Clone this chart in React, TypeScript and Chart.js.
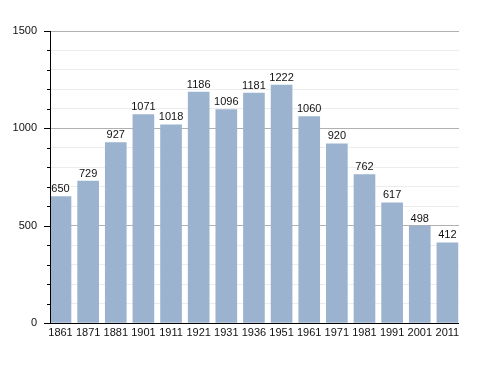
import React, { useEffect, useRef } from "react";
import { Chart, registerables } from "chart.js";

Chart.register(...registerables);

const categories = ["1861", "1871", "1881", "1901", "1911", "1921", "1931", "1936", "1951", "1961", "1971", "1981", "1991", "2001", "2011"];
const population = [650, 729, 927, 1071, 1018, 1186, 1096, 1181, 1222, 1060, 920, 762, 617, 498, 412];
const yTicks = [0, 500, 1000, 1500];

const FONT = "Liberation Sans, Arial, sans-serif";

const valueLabels = {
  id: "valueLabels",
  afterDatasetsDraw(chart: any) {
    const ctx = chart.ctx;
    const meta = chart.getDatasetMeta(0);
    ctx.save();
    ctx.font = `11px ${FONT}`;
    ctx.fillStyle = "#111";
    ctx.textAlign = "center";
    ctx.textBaseline = "bottom";
    meta.data.forEach((el: any, i: number) => {
      ctx.fillText(String(population[i]), el.x, el.y - 2);
    });
    ctx.restore();
  },
};

const axisTicks = {
  id: "axisTicks",
  afterDraw(chart: any) {
    const ctx = chart.ctx;
    const y = chart.scales.y;
    const area = chart.chartArea;
    ctx.save();
    ctx.strokeStyle = "#000";
    ctx.lineWidth = 1;
    for (let v = 0; v <= 1500; v += 100) {
      const py = Math.round(y.getPixelForValue(v)) + 0.5;
      const len = v % 500 === 0 ? 6 : 3;
      ctx.beginPath();
      ctx.moveTo(area.left - len, py);
      ctx.lineTo(area.left, py);
      ctx.stroke();
    }
    ctx.beginPath();
    ctx.moveTo(area.left + 0.5, area.top);
    ctx.lineTo(area.left + 0.5, area.bottom);
    ctx.moveTo(area.left, area.bottom + 0.5);
    ctx.lineTo(area.right, area.bottom + 0.5);
    ctx.stroke();
    ctx.restore();
  },
};

export default function App() {
  const ref = useRef<HTMLCanvasElement>(null);
  useEffect(() => {
    const chart = new Chart(ref.current!, {
      type: "bar",
      data: {
        datasets: [
          {
            data: population.map((v, i) => ({ x: i, y: v })),
            backgroundColor: "#9bb3cf",
            borderWidth: 0,
            barThickness: 21,
          },
        ],
      },
      options: {
        animation: false,
        responsive: false,
        layout: { padding: { left: 0, right: 29, top: 31, bottom: 0 } },
        plugins: { legend: { display: false }, tooltip: { enabled: false } },
        scales: {
          x: {
            type: "linear",
            offset: false,
            min: -0.38,
            max: 14.42,
            afterBuildTicks: (axis: any) => {
              axis.ticks = categories.map((_, i) => ({ value: i }));
            },
            afterFit: (axis: any) => {
              axis.height = 50;
            },
            grid: { display: false, drawTicks: false, offset: false },
            border: { display: false },
            ticks: {
              autoSkip: false,
              maxRotation: 0,
              padding: 3,
              color: "#111",
              font: { family: FONT, size: 11 },
              callback: (v: any) => categories[v] ?? "",
            },
          },
          y: {
            min: 0,
            max: 1500,
            afterBuildTicks: (axis: any) => {
              const t = [];
              for (let v = 0; v <= 1500; v += 100) t.push({ value: v });
              axis.ticks = t;
            },
            afterFit: (axis: any) => {
              axis.width = 50;
            },
            grid: {
              drawTicks: false,
              color: (c: any) => (c.tick && c.tick.value % 500 === 0 ? "#b0b0b0" : "#ececec"),
            },
            border: { display: false },
            ticks: {
              padding: 13,
              color: "#111",
              font: { family: FONT, size: 11 },
              callback: (v: any) => (yTicks.includes(v) ? String(v) : ""),
            },
          },
        },
      },
      plugins: [valueLabels, axisTicks],
    });
    return () => chart.destroy();
  }, []);
  return (
    <div style={{ position: "fixed", left: 0, top: 0, width: 488, height: 373, background: "#fff" }}>
      <canvas ref={ref} width={488} height={373} />
    </div>
  );
}
